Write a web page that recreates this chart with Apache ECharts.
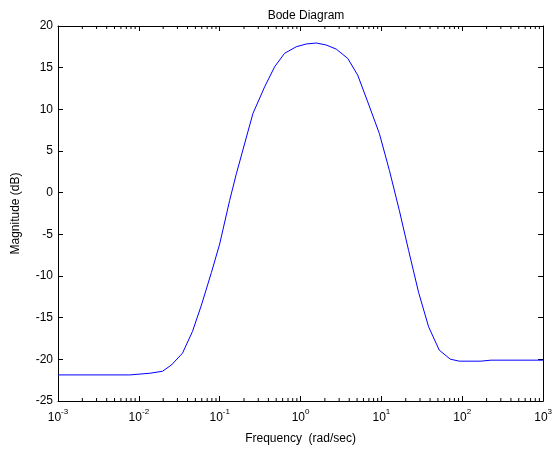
<!DOCTYPE html>
<html><head><meta charset="utf-8">
<script src="https://cdn.jsdelivr.net/npm/echarts@6/dist/echarts.min.js"></script>
<style>html,body{margin:0;padding:0;background:#fff}#c{width:555px;height:450px}</style>
</head><body><div id="c"></div>
<script>
// Frequency (rad/sec) and magnitude (dB)
const freq = [0.001, 0.00774, 0.01368, 0.01963, 0.02535, 0.03467, 0.04603, 0.05943, 0.0791, 0.1,
  0.1327, 0.1607, 0.2576, 0.3597, 0.4775, 0.6339, 0.885, 1.175, 1.563, 2.075, 2.761, 3.837,
  5.093, 6.776, 9.44, 12.56, 16.67, 21.73, 28.84, 38.37, 52.0, 71.1, 91.8, 170.2, 225.9, 1000];
const magnitude = [-21.87, -21.87, -21.67, -21.43, -20.67, -19.26, -16.66, -13.49, -9.56, -6.15,
  -0.94, 2.27, 9.50, 12.70, 15.10, 16.72, 17.51, 17.84, 17.96, 17.72, 17.23, 16.11,
  14.10, 10.89, 7.09, 2.67, -2.14, -6.95, -11.97, -16.10, -18.90, -19.98, -20.22, -20.22, -20.10, -20.10];
const minorTickFreqs = [];
const decades = [0.001, 0.01, 0.1, 1, 10, 100];
const minorMultipliers = [2, 3, 4, 5, 6, 7, 8, 9];
decades.forEach(d => minorMultipliers.forEach(m => minorTickFreqs.push(+(d * m).toPrecision(3))));

const titleText = 'Bode Diagram';
const xName = 'Frequency  (rad/sec)';
const yName = 'Magnitude (dB)';
const font = 'Arial, "Liberation Sans", sans-serif';

const chart = echarts.init(document.getElementById('c'), null, {renderer: 'canvas'});
const xLabelFmt = v => '{b|10}{s|' + Math.round(Math.log10(v)) + '}';
const axisLineStyle = {color: '#000', width: 1};
chart.setOption({
  animation: false,
  backgroundColor: '#fff',
  title: {text: titleText, left: 301, top: 5, textAlign: 'center',
    textStyle: {fontFamily: font, fontSize: 12, fontWeight: 'normal', color: '#000'}},
  grid: {left: 58, right: 11, top: 26, bottom: 49, containLabel: false},
  xAxis: [{
    type: 'log', logBase: 10, min: 0.001, max: 1000, interval: 1,
    position: 'bottom',
    name: xName, nameLocation: 'middle', nameGap: 32,
    nameTextStyle: {fontFamily: font, fontSize: 12, color: '#000'},
    axisLine: {show: true, onZero: false, lineStyle: axisLineStyle},
    axisTick: {show: true, inside: true, length: 5, lineStyle: axisLineStyle},
    splitLine: {show: false},
    axisLabel: {formatter: xLabelFmt, margin: 5, color: '#000',
      rich: {b: {fontFamily: font, fontSize: 12, color: '#000', padding: [6, 0, 0, 0]},
             s: {fontFamily: font, fontSize: 8, color: '#000', padding: [0, 0, 6, 0]}}}
  }, {
    type: 'log', logBase: 10, min: 0.001, max: 1000, interval: 1,
    position: 'top',
    axisLine: {show: true, onZero: false, lineStyle: axisLineStyle},
    axisTick: {show: true, inside: true, length: 5, lineStyle: axisLineStyle},
    axisLabel: {show: false}, splitLine: {show: false}
  }],
  yAxis: [{
    type: 'value', min: -25, max: 20, interval: 5, position: 'left',
    name: yName, nameLocation: 'middle', nameGap: 36, nameRotate: 90,
    nameTextStyle: {fontFamily: font, fontSize: 12, color: '#000'},
    axisLine: {show: true, onZero: false, lineStyle: axisLineStyle},
    axisTick: {show: true, inside: true, length: 5, lineStyle: axisLineStyle},
    splitLine: {show: false},
    axisLabel: {fontFamily: font, fontSize: 12, color: '#000', margin: 5}
  }, {
    type: 'value', min: -25, max: 20, interval: 5, position: 'right',
    axisLine: {show: true, onZero: false, lineStyle: axisLineStyle},
    axisTick: {show: true, inside: true, length: 5, lineStyle: axisLineStyle},
    axisLabel: {show: false}, splitLine: {show: false}
  }],
  series: [{
    type: 'line', xAxisIndex: 0, yAxisIndex: 0,
    data: freq.map((f, i) => [f, magnitude[i]]),
    symbol: 'none', smooth: false,
    lineStyle: {color: '#0000ff', width: 1}
  }, {
    type: 'custom', xAxisIndex: 0, yAxisIndex: 0, silent: true, clip: false,
    data: minorTickFreqs.map(f => [f]),
    renderItem: (params, api) => {
      const f = api.value(0);
      const b = api.coord([f, -25]);
      const t = api.coord([f, 20]);
      const st = {stroke: '#000', lineWidth: 1};
      return {type: 'group', children: [
        {type: 'line', shape: {x1: b[0], y1: b[1], x2: b[0], y2: b[1] - 3}, style: st},
        {type: 'line', shape: {x1: t[0], y1: t[1], x2: t[0], y2: t[1] + 3}, style: st}
      ]};
    }
  }]
});
</script></body></html>
